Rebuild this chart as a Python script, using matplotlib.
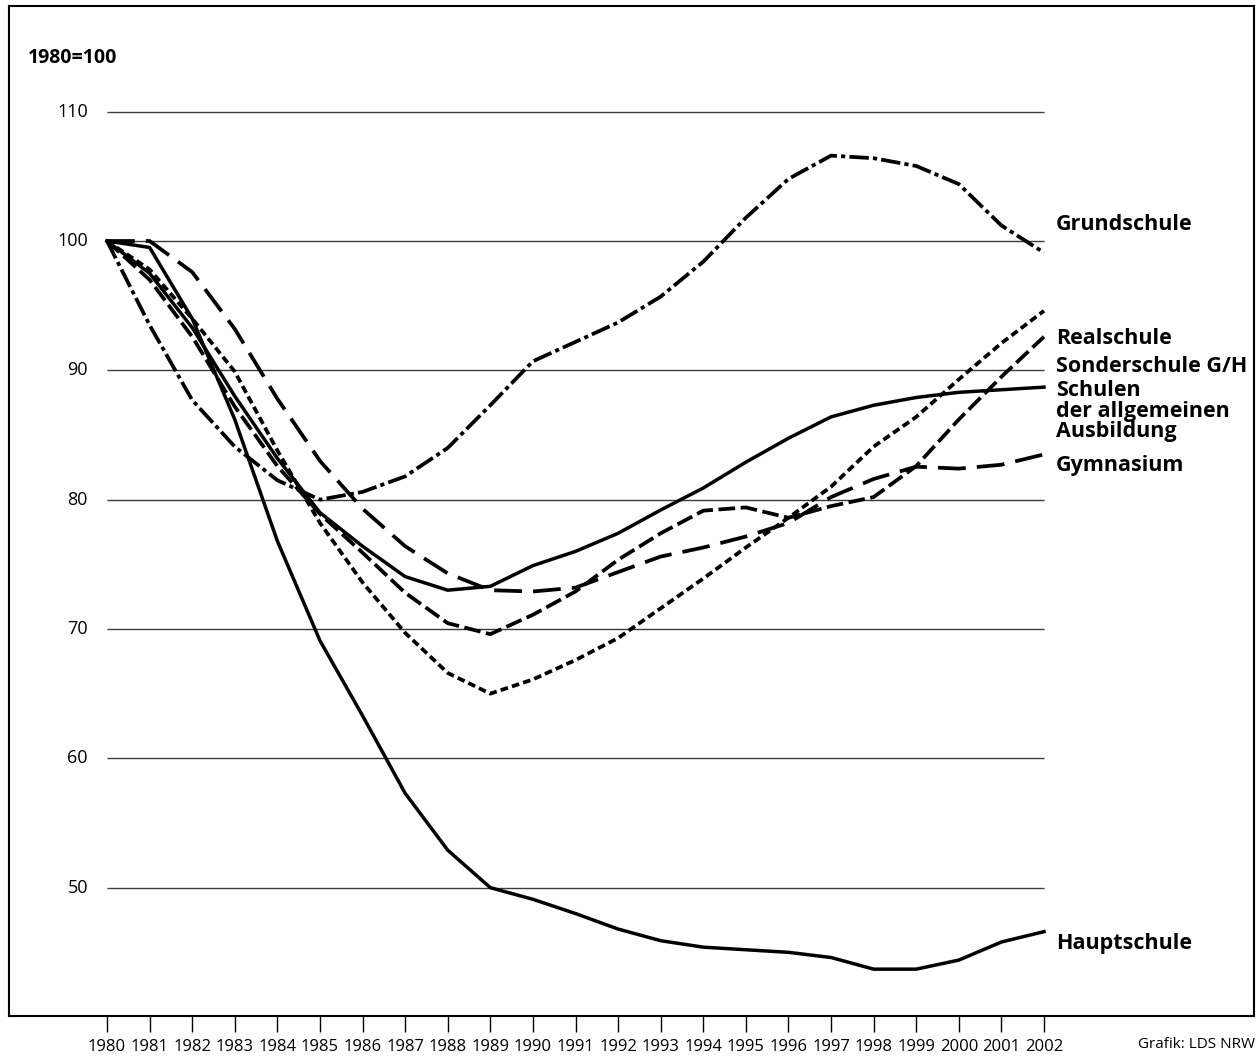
import matplotlib
matplotlib.use("Agg")
from matplotlib import pyplot as plt

plt.rcParams['font.family'] = ['Open Sans', 'DejaVu Sans']
plt.rcParams['lines.scale_dashes'] = False

jahre = list(range(1980, 2003))

grundschule = [100, 93.5, 87.7, 84.1, 81.5, 80.0, 80.6, 81.8, 84.0, 87.3, 90.7, 92.2,
               93.7, 95.7, 98.4, 101.8, 104.8, 106.6, 106.4, 105.8, 104.4, 101.2, 99.1]
hauptschule = [100, 99.5, 94.0, 86.2, 76.8, 69.1, 63.3, 57.3, 52.9, 50.0, 49.1, 48.0,
               46.8, 45.9, 45.4, 45.2, 45.0, 44.6, 43.7, 43.7, 44.4, 45.8, 46.6]
realschule = [100, 97.8, 94.0, 89.9, 83.8, 78.2, 73.6, 69.7, 66.6, 65.0, 66.1, 67.6,
              69.3, 71.6, 73.9, 76.3, 78.6, 81.0, 84.1, 86.4, 89.3, 92.1, 94.6]
sonderschule = [100, 97.0, 92.6, 87.2, 82.6, 78.9, 75.9, 72.8, 70.45, 69.6, 71.1, 72.9,
                75.35, 77.4, 79.15, 79.4, 78.6, 79.5, 80.2, 82.6, 86.2, 89.5, 92.6]
insgesamt = [100, 97.5, 93.3, 88.0, 83.2, 79.0, 76.4, 74.05, 73.0, 73.3, 74.9, 76.0,
             77.4, 79.2, 80.9, 82.9, 84.75, 86.4, 87.3, 87.9, 88.3, 88.5, 88.7]
gymnasium = [100, 100, 97.6, 93.2, 87.8, 83.0, 79.3, 76.4, 74.3, 73.0, 72.9, 73.2,
             74.4, 75.6, 76.3, 77.15, 78.2, 80.2, 81.6, 82.55, 82.4, 82.7, 83.5]

y_ticks = [50, 60, 70, 80, 90, 100, 110]

W, H = 1257, 1061
fig = plt.figure(figsize=(W / 100, H / 100), dpi=100)

# Rahmen = Achsenflaeche
l, r, t, b = 9, 1254, 6, 1016
ax = fig.add_axes([l / W, 1 - b / H, (r - l) / W, (b - t) / H])

px_jahr = (1044 - 107) / 22
px_wert = (887 - 111) / 60
ax.set_xlim(1980 - (107 - l) / px_jahr, 1980 + (r - 107) / px_jahr)
ax.set_ylim(100 - (b - 241) / px_wert, 100 + (241 - t) / px_wert)

for s in ax.spines.values():
    s.set_linewidth(1.5)
    s.set_color('black')

ax.hlines(y_ticks, 1980, 2002, color='#3a3a3a', lw=1.0, zorder=1)

lw = 2.7
ax.plot(jahre, grundschule, color='black', lw=lw, dashes=(14, 3, 3, 3))
ax.plot(jahre, hauptschule, color='black', lw=2.5, solid_joinstyle='round')
ax.plot(jahre, realschule, color='black', lw=lw, dashes=(5.5, 3))
ax.plot(jahre, sonderschule, color='black', lw=lw, dashes=(12, 4))
ax.plot(jahre, insgesamt, color='black', lw=2.5, solid_joinstyle='round')
ax.plot(jahre, gymnasium, color='black', lw=lw, dashes=(20, 8))

ax.set_xticks(jahre)
ax.set_xticklabels([str(j) for j in jahre], fontsize=12)
ax.tick_params(axis='x', direction='out', length=11.5, width=1.0, pad=5)
ax.set_yticks([])

for v in y_ticks:
    ax.text(1980 - (107 - 88) / px_jahr, v, str(v), ha='right', va='center', fontsize=13)

fig.text(28 / W, 1 - 58 / H, '1980=100', fontsize=14, fontweight='bold', va='center', ha='left')

labels = [('Grundschule', 224), ('Realschule', 339), ('Sonderschule G/H', 367),
          ('Schulen', 390.5), ('der allgemeinen', 411.5), ('Ausbildung', 432),
          ('Gymnasium', 465.5), ('Hauptschule', 944)]
for txt, ypx in labels:
    fig.text(1056 / W, 1 - ypx / H, txt, fontsize=15.5, fontweight='bold', va='center', ha='left')

fig.text(1255 / W, 1 - 1044 / H, 'Grafik: LDS NRW', fontsize=11, ha='right', va='center')

fig.savefig('out.png', dpi=100)
